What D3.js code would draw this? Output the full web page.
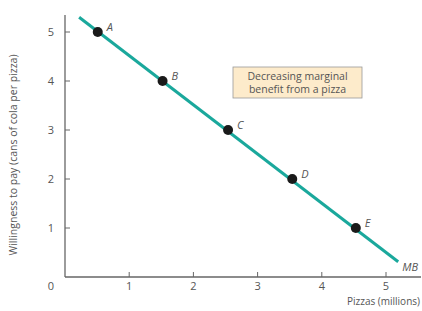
<!DOCTYPE html>
<html>
<head>
<meta charset="utf-8">
<script src="https://cdn.jsdelivr.net/npm/d3@7"></script>
<style>
	body { margin: 0; background: #fff; }
	text { font-family: "Open Sans", "DejaVu Sans", sans-serif; fill: #555; }
</style>
</head>
<body>
<div id="chart"></div>
<script>
// points on the marginal benefit curve
var pointNames = ['A', 'B', 'C', 'D', 'E'];
var pizzas = [0.51, 1.52, 2.54, 3.54, 4.53];
var willingness = [5, 4, 3, 2, 1];
// ends of the MB line
var lineX = [0.22, 5.19];
var lineY = [5.3, 0.31];
var xTicks = [1, 2, 3, 4, 5];
var yTicks = [1, 2, 3, 4, 5];

var width = 422, height = 311;
var svg = d3.select('#chart').append('svg').attr('width', width).attr('height', height);

var x = d3.scaleLinear().domain([0, 5]).range([65, 386]);
var y = d3.scaleLinear().domain([0, 5]).range([277, 32]);

// axes
svg.append('line').attr('x1', x(0)).attr('x2', 421).attr('y1', y(0)).attr('y2', y(0))
	.attr('stroke', '#666').attr('stroke-width', 1.3);
svg.append('line').attr('x1', x(0)).attr('x2', x(0)).attr('y1', y(0)).attr('y2', 15)
	.attr('stroke', '#666').attr('stroke-width', 1.3);

svg.selectAll('line.xt').data(xTicks).enter().append('line').attr('class', 'xt')
	.attr('x1', function(d) { return x(d); }).attr('x2', function(d) { return x(d); })
	.attr('y1', y(0)).attr('y2', y(0) - 5).attr('stroke', '#666');
svg.selectAll('line.yt').data(yTicks).enter().append('line').attr('class', 'yt')
	.attr('y1', function(d) { return y(d); }).attr('y2', function(d) { return y(d); })
	.attr('x1', x(0)).attr('x2', x(0) + 5).attr('stroke', '#666');

svg.selectAll('text.xl').data(xTicks).enter().append('text').attr('class', 'xl')
	.attr('x', function(d) { return x(d); }).attr('y', 290)
	.attr('text-anchor', 'middle').attr('font-size', 11).text(function(d) { return d; });
svg.selectAll('text.yl').data(yTicks).enter().append('text').attr('class', 'yl')
	.attr('x', 51).attr('y', function(d) { return y(d) + 4; })
	.attr('text-anchor', 'middle').attr('font-size', 11).text(function(d) { return d; });
svg.append('text').attr('x', 51).attr('y', 290).attr('text-anchor', 'middle')
	.attr('font-size', 11).text('0');

svg.append('text').attr('x', 420).attr('y', 305).attr('text-anchor', 'end')
	.attr('font-size', 10).text('Pizzas (millions)');
svg.append('text').attr('transform', 'translate(17,155) rotate(-90)')
	.attr('text-anchor', 'middle').attr('font-size', 10.5)
	.text('Willingness to pay (cans of cola per pizza)');

// MB line
svg.append('line')
	.attr('x1', x(lineX[0])).attr('y1', y(lineY[0]))
	.attr('x2', x(lineX[1])).attr('y2', y(lineY[1]))
	.attr('stroke', '#1aa89c').attr('stroke-width', 3);
svg.append('text').attr('x', x(lineX[1]) + 4).attr('y', y(lineY[1]) + 9)
	.attr('font-size', 11).attr('font-style', 'italic').text('MB');

// points
var pts = pizzas.map(function(p, i) { return {x: p, y: willingness[i], name: pointNames[i]}; });
svg.selectAll('circle').data(pts).enter().append('circle')
	.attr('cx', function(d) { return x(d.x); }).attr('cy', function(d) { return y(d.y); })
	.attr('r', 5).attr('fill', '#1a1a1a');
svg.selectAll('text.pl').data(pts).enter().append('text').attr('class', 'pl')
	.attr('x', function(d) { return x(d.x) + 9; }).attr('y', function(d) { return y(d.y) - 1; })
	.attr('font-size', 11).attr('font-style', 'italic').text(function(d) { return d.name; });

// note box
svg.append('rect').attr('x', 233).attr('y', 67).attr('width', 129).attr('height', 31)
	.attr('fill', '#fdebcb').attr('stroke', '#999').attr('stroke-width', 0.8);
svg.append('text').attr('x', 297.5).attr('y', 80).attr('text-anchor', 'middle')
	.attr('font-size', 10.5).text('Decreasing marginal');
svg.append('text').attr('x', 297.5).attr('y', 93).attr('text-anchor', 'middle')
	.attr('font-size', 10.5).text('benefit from a pizza');
</script>
</body>
</html>
